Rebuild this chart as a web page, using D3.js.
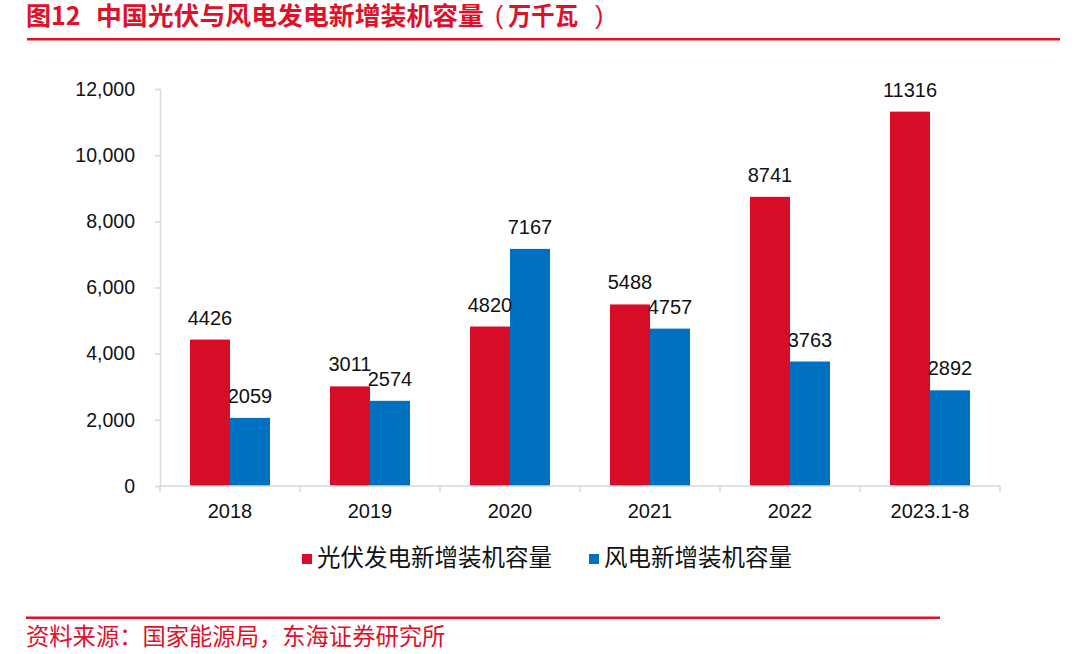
<!DOCTYPE html>
<html>
<head>
<meta charset="utf-8">
<script src="https://cdn.jsdelivr.net/npm/d3@7"></script>
<style>
  html, body { margin: 0; padding: 0; background: #fff; }
  svg { display: block; }
</style>
</head>
<body>
<svg id="chart" width="1080" height="654"></svg>
<script>
const categories = ["2018", "2019", "2020", "2021", "2022", "2023.1-8"];
const seriesNames = ["光伏发电新增装机容量", "风电新增装机容量"];
const solarValues = [4426, 3011, 4820, 5488, 8741, 11316];
const windValues = [2059, 2574, 7167, 4757, 3763, 2892];
const yTicks = [0, 2000, 4000, 6000, 8000, 10000, 12000];
const titleNumber = "图12";
const titleMain = "中国光伏与风电发电新增装机容量";
const titleUnit = "万千瓦";
const sourceText = "资料来源：国家能源局，东海证券研究所";

const RED = "#d70c26";
const BLUE = "#0070c0";
const TITLE_RED = "#e0102a";
const AXIS = "#d9d9d9";
const NUM_FONT = "'Liberation Sans', Arial, sans-serif";
const CJK_FONT = "'Noto Sans CJK SC', 'Noto Sans', sans-serif";

const svg = d3.select("#chart");

// Title
const title = svg.append("g")
  .attr("fill", TITLE_RED).attr("font-family", CJK_FONT)
  .attr("font-weight", "bold").attr("font-size", 25);
title.append("text").attr("x", 26).attr("y", 25).text(titleNumber);
title.append("text").attr("x", 96).attr("y", 25)
  .attr("textLength", 388).attr("lengthAdjust", "spacingAndGlyphs").text(titleMain);
title.append("text").attr("x", 495).attr("y", 24).attr("font-weight", "normal")
  .attr("font-family", NUM_FONT).text("(");
title.append("text").attr("x", 508).attr("y", 25)
  .attr("textLength", 70).attr("lengthAdjust", "spacingAndGlyphs").text(titleUnit);
title.append("text").attr("x", 595).attr("y", 24).attr("font-weight", "normal")
  .attr("font-family", NUM_FONT).text(")");
svg.append("rect").attr("x", 27).attr("y", 38).attr("width", 1033).attr("height", 2.5)
  .attr("fill", TITLE_RED);

// Scales
const x0 = d3.scaleBand().domain(categories).range([160, 1000]).padding(0);
const x1 = d3.scaleBand().domain(seriesNames).range([30, 110]).padding(0);
const y = d3.scaleLinear().domain([0, 12000]).range([486, 89]);
const color = d3.scaleOrdinal().domain(seriesNames).range([RED, BLUE]);

const data = categories.map((c, i) => ({
  cat: c,
  vals: [
    { s: seriesNames[0], v: solarValues[i] },
    { s: seriesNames[1], v: windValues[i] }
  ]
}));

// Y axis
const yAxis = svg.append("g").attr("transform", "translate(160,0)")
  .call(d3.axisLeft(y).tickValues(yTicks).tickSize(5).tickPadding(20)
    .tickFormat(d3.format(",")));
yAxis.select(".domain").attr("stroke", AXIS).attr("stroke-width", 1.5);
yAxis.selectAll(".tick line").attr("stroke", AXIS).attr("stroke-width", 1.5);
yAxis.selectAll(".tick text").attr("font-family", NUM_FONT).attr("font-size", 19.5)
  .attr("fill", "#111");

// Bars
const groups = svg.append("g").selectAll("g").data(data).join("g")
  .attr("transform", d => `translate(${x0(d.cat)},0)`);
groups.selectAll("rect").data(d => d.vals).join("rect")
  .attr("x", d => x1(d.s))
  .attr("y", d => y(d.v))
  .attr("width", x1.bandwidth())
  .attr("height", d => y(0) - y(d.v))
  .attr("fill", d => color(d.s));
groups.selectAll("text").data(d => d.vals).join("text")
  .attr("x", d => x1(d.s) + x1.bandwidth() / 2)
  .attr("y", d => y(d.v) - 15)
  .attr("text-anchor", "middle")
  .attr("font-family", NUM_FONT).attr("font-size", 20).attr("fill", "#111")
  .text(d => d.v);

// X axis
const xAxis = svg.append("g").attr("transform", `translate(0,${y(0)})`)
  .call(d3.axisBottom(x0).tickSize(0).tickPadding(0));
xAxis.select(".domain").remove();
xAxis.append("line").attr("x1", x0.range()[0]).attr("x2", x0.range()[1])
  .attr("y1", 0).attr("y2", 0).attr("stroke", AXIS).attr("stroke-width", 1.5);
const bounds = categories.map(c => x0(c)).concat([x0.range()[1]]);
xAxis.selectAll(".bound").data(bounds).join("line").attr("class", "bound")
  .attr("x1", d => d).attr("x2", d => d).attr("y1", 0).attr("y2", 6)
  .attr("stroke", AXIS).attr("stroke-width", 1.5);
xAxis.selectAll(".tick text").attr("y", 32).attr("dy", null)
  .attr("font-family", NUM_FONT).attr("font-size", 20).attr("fill", "#111");

// Legend
const legendX = [302, 589];
const legend = svg.append("g").selectAll("g").data(seriesNames).join("g")
  .attr("transform", (d, i) => `translate(${legendX[i]},0)`);
legend.append("rect").attr("x", 0).attr("y", 554).attr("width", 10).attr("height", 10)
  .attr("fill", d => color(d));
legend.append("text").attr("x", 15).attr("y", 566)
  .attr("font-family", CJK_FONT).attr("font-size", 23.5).attr("fill", "#111")
  .text(d => d);

// Footer
svg.append("rect").attr("x", 26).attr("y", 616.5).attr("width", 914).attr("height", 2.5)
  .attr("fill", TITLE_RED);
svg.append("text").attr("x", 26).attr("y", 645)
  .attr("fill", TITLE_RED).attr("font-family", CJK_FONT).attr("font-size", 23.3)
  .text(sourceText);
</script>
</body>
</html>
